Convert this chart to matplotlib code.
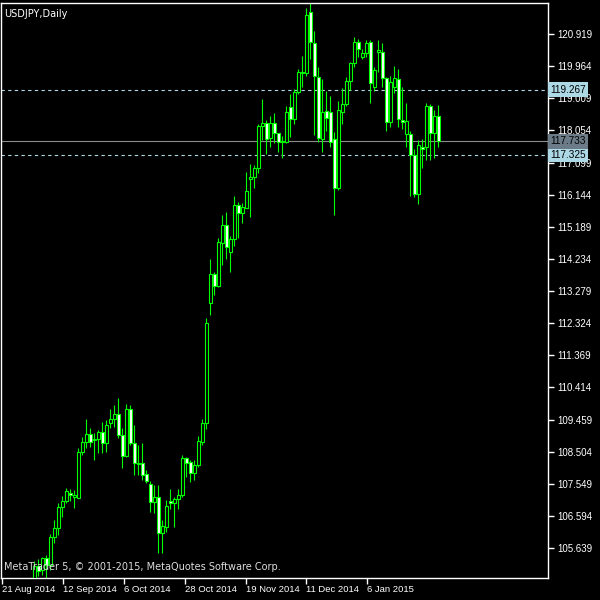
import matplotlib.pyplot as plt
import numpy as np

# USDJPY daily candles (first visible bar is bar 8 after 21 Aug 2014)
first_bar = 8
opens = [104.75, 105.10, 104.98, 105.33, 105.13, 105.98, 106.22, 106.85, 107.04, 107.28,
         107.15, 107.14, 108.48, 108.78, 109.03, 108.85, 108.88, 109.08, 108.76, 109.36,
         109.48, 109.62, 109.00, 108.37, 109.77, 108.76, 108.14, 108.17, 107.84, 107.54,
         107.01, 107.16, 106.09, 106.26, 107.04, 106.98, 107.10, 107.21, 108.32, 108.20,
         107.87, 108.11, 108.79, 109.36, 112.92, 113.78, 113.43, 114.71, 115.24, 114.44,
         114.82, 115.84, 115.60, 115.75, 116.61, 116.67, 116.94, 118.18, 118.27, 117.83,
         118.27, 117.98, 117.71, 117.71, 118.75, 118.39, 119.19, 119.76, 119.76, 121.57,
         120.65, 119.64, 117.80, 118.63, 118.60, 117.80, 116.34, 118.60, 118.84, 119.52,
         120.06, 120.68, 120.24, 120.35, 120.68, 119.34, 120.38, 120.38, 119.61, 118.30,
         119.34, 119.58, 118.36, 117.95, 117.95, 117.32, 116.16, 117.56, 117.56, 118.78,
         117.98, 118.48]
highs = [105.25, 105.30, 105.38, 105.43, 106.07, 106.47, 106.97, 107.19, 107.41, 107.38,
         107.36, 108.60, 108.95, 109.46, 109.20, 109.05, 109.15, 109.39, 109.45, 109.77,
         109.89, 110.10, 109.21, 109.92, 109.89, 109.30, 108.70, 108.76, 107.96, 107.63,
         107.51, 107.51, 106.47, 107.07, 107.39, 107.16, 107.39, 108.41, 108.34, 108.26,
         108.26, 108.97, 109.48, 112.48, 114.23, 113.84, 114.85, 115.54, 115.63, 114.91,
         116.10, 115.93, 115.90, 116.82, 117.05, 117.02, 118.24, 118.99, 118.36, 118.48,
         118.57, 117.98, 117.89, 118.78, 119.14, 119.28, 119.88, 120.27, 121.69, 121.84,
         121.01, 119.94, 119.58, 119.22, 119.08, 118.01, 118.93, 119.31, 119.64, 120.09,
         120.83, 120.77, 120.47, 120.74, 120.74, 119.94, 120.74, 120.65, 119.64, 119.67,
         119.97, 119.88, 119.34, 118.87, 118.04, 117.50, 117.77, 117.80, 118.87, 118.84,
         118.66, 118.81]
lows = [104.65, 104.80, 104.85, 104.72, 104.99, 105.78, 106.03, 106.57, 106.97, 107.05,
        106.82, 107.12, 108.40, 108.60, 108.65, 108.27, 108.46, 108.46, 108.49, 109.21,
        109.24, 108.91, 108.02, 108.34, 108.70, 107.81, 107.81, 107.66, 107.57, 106.71,
        106.68, 105.49, 105.49, 106.12, 106.80, 106.26, 106.80, 107.16, 107.75, 107.60,
        107.66, 108.05, 108.70, 109.18, 112.57, 113.16, 113.40, 114.05, 114.23, 113.84,
        114.62, 114.85, 115.30, 115.75, 115.48, 116.34, 116.79, 117.77, 117.35, 117.56,
        117.68, 117.41, 117.23, 117.68, 117.86, 118.24, 119.14, 119.34, 119.67, 120.18,
        117.92, 117.71, 117.41, 118.04, 117.56, 115.54, 116.28, 118.24, 118.78, 119.25,
        119.94, 120.24, 120.18, 120.24, 118.87, 119.22, 119.79, 119.34, 118.04, 118.15,
        119.17, 118.15, 118.10, 117.56, 116.10, 116.07, 115.87, 116.94, 117.17, 117.17,
        117.23, 117.56]
closes = [105.10, 104.95, 105.33, 105.13, 105.98, 106.22, 106.87, 107.04, 107.33, 107.21,
          107.21, 108.50, 108.80, 109.03, 108.80, 108.88, 109.08, 108.76, 109.30, 109.48,
          109.62, 109.00, 108.37, 109.77, 108.76, 108.17, 108.17, 107.81, 107.63, 107.01,
          107.16, 106.09, 106.29, 106.89, 106.98, 107.10, 107.21, 108.32, 108.17, 107.87,
          108.11, 108.82, 109.36, 112.33, 113.78, 113.43, 114.74, 115.24, 114.59, 114.82,
          115.84, 115.60, 115.78, 116.25, 116.67, 116.94, 118.18, 118.27, 117.80, 118.27,
          117.98, 117.71, 117.74, 118.60, 118.39, 119.19, 119.79, 119.79, 121.48, 120.68,
          119.67, 117.83, 118.60, 118.42, 117.71, 116.34, 118.66, 118.84, 119.52, 120.06,
          120.68, 120.47, 120.35, 120.65, 119.46, 119.85, 120.44, 119.61, 118.30, 119.49,
          119.61, 118.39, 118.30, 118.33, 117.32, 116.16, 117.62, 117.50, 118.78, 117.98,
          118.48, 117.74]

date_labels = ["21 Aug 2014", "12 Sep 2014", "6 Oct 2014", "28 Oct 2014",
               "19 Nov 2014", "11 Dec 2014", "6 Jan 2015"]
date_bars = [0, 15.2, 30.4, 45.6, 60.8, 76, 91.2]

price_ticks = [105.639 + 0.955 * k for k in range(17)]
level_hi = 119.267
level_lo = 117.325
last_price = 117.733

LIME = "#00ff00"
LBLUE = "#add8e6"
NARROW = "Liberation Sans"

o = np.array(opens)
h = np.array(highs)
l = np.array(lows)
c = np.array(closes)
x = np.arange(len(o)) + first_bar

fig = plt.figure(figsize=(6, 6), dpi=100, facecolor="black")
ax = fig.add_axes([1 / 600, 22 / 600, 547 / 600, 575 / 600])
ax.set_facecolor("black")

# wicks then bodies (bull = hollow black, bear = white)
ax.vlines(x, l, h, color=LIME, linewidth=0.8, zorder=2)
bull = c >= o
fills = np.where(bull, "black", "white")
ax.bar(x, np.abs(c - o), bottom=np.minimum(o, c), width=0.6,
       color=fills, edgecolor=LIME, linewidth=0.8, zorder=3)

# levels
ax.axhline(level_hi, color=LBLUE, linewidth=0.8, dashes=(3, 3), zorder=1)
ax.axhline(level_lo, color=LBLUE, linewidth=0.8, dashes=(3, 3), zorder=1)
ax.axhline(last_price, color="#8c8c8c", linewidth=0.8, zorder=1)

ax.set_xlim(-0.33, 136.4)
ax.set_ylim(104.748, 121.841)

for s in ax.spines.values():
    s.set_color("white")
    s.set_linewidth(1)

ax.yaxis.tick_right()
ax.set_yticks(price_ticks)
ax.set_yticklabels([f"{p:.3f}" for p in price_ticks], family=NARROW)
ax.tick_params(axis="y", colors="white", labelsize=7, length=4, width=1, pad=2.5)

ax.set_xticks(date_bars)
ax.set_xticklabels(date_labels, ha="left", family=NARROW)
ax.tick_params(axis="x", colors="white", labelsize=6.8, length=4, width=1, pad=1)

ytr = ax.get_yaxis_transform()
for val, fc in [(level_hi, LBLUE), (level_lo, LBLUE), (last_price, "#6b7b87")]:
    ax.text(1.004, val, f"{val:.3f}", transform=ytr, ha="left", va="center",
            fontsize=7.2, family=NARROW, color="black", zorder=5, clip_on=False,
            bbox=dict(boxstyle="square,pad=0.25", fc=fc, ec="none"))

ax.text(0.006, 0.99, "USDJPY,Daily", transform=ax.transAxes, ha="left", va="top",
        fontsize=7, color="white")
ax.text(0.006, 0.01, "MetaTrader 5, \u00a9 2001-2015, MetaQuotes Software Corp.",
        transform=ax.transAxes, ha="left", va="bottom", fontsize=7, color="#dcdcdc",
        zorder=6)

fig.savefig("out.png", dpi=100, facecolor="black")
